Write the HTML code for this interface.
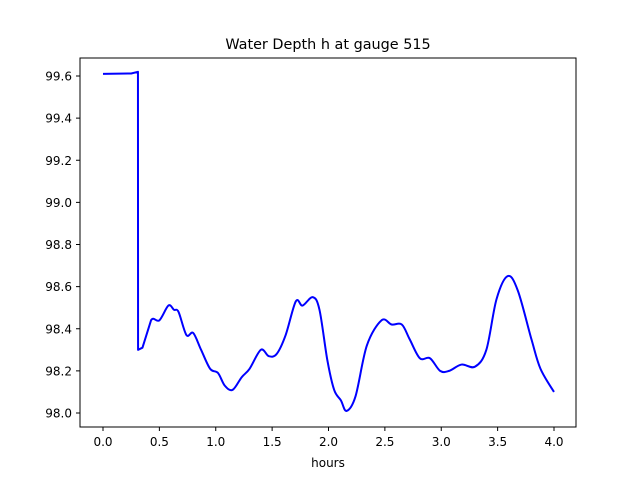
<!DOCTYPE html>
<html><head><meta charset="utf-8"><style>
body{margin:0;background:#fff;}
svg text{font-family:"DejaVu Sans","Liberation Sans",sans-serif;fill:#000;}
</style></head><body>
<svg id="chart" width="640" height="480" viewBox="0 0 640 480">
<rect width="640" height="480" fill="#fff"/>
<text x="328" y="49" font-size="14.4" text-anchor="middle">Water Depth h at gauge 515</text>
<g id="xt"></g>
<g id="yt"></g>
<path id="line" fill="none" stroke="#0000ff" stroke-width="2" stroke-linejoin="round"/>
<rect x="80" y="58" width="496" height="369" fill="none" stroke="#000" stroke-width="1"/>
<text x="328" y="467" font-size="12" text-anchor="middle">hours</text>
</svg>
<script>
const times=[0,0.25,0.31,0.311,0.35,0.426,0.5,0.58,0.63,0.67,0.74,0.8,0.87,0.95,1.02,1.08,1.15,1.23,1.3,1.4,1.47,1.54,1.62,1.71,1.77,1.86,1.92,1.99,2.05,2.11,2.16,2.24,2.34,2.47,2.56,2.65,2.72,2.81,2.9,2.99,3.07,3.18,3.3,3.4,3.49,3.59,3.68,3.8,3.88,4.0];
const depths=[99.61,99.612,99.62,98.30,98.31,98.44,98.44,98.51,98.49,98.48,98.37,98.38,98.30,98.21,98.19,98.13,98.11,98.17,98.21,98.30,98.27,98.28,98.37,98.53,98.51,98.55,98.49,98.25,98.11,98.06,98.01,98.08,98.32,98.44,98.42,98.42,98.35,98.26,98.26,98.20,98.20,98.23,98.22,98.30,98.54,98.65,98.58,98.35,98.21,98.10];
const xTicks=[0,0.5,1,1.5,2,2.5,3,3.5,4];
const xTickLabels=["0.0","0.5","1.0","1.5","2.0","2.5","3.0","3.5","4.0"];
const yTicks=[98.0,98.2,98.4,98.6,98.8,99.0,99.2,99.4,99.6];
const yTickLabels=["98.0","98.2","98.4","98.6","98.8","99.0","99.2","99.4","99.6"];
const sx=t=>103+t*112.75;
const sy=v=>413-(v-98.0)*210.625;
const NS="http://www.w3.org/2000/svg";
const xt=document.getElementById('xt'),yt=document.getElementById('yt');
xTicks.forEach((t,i)=>{
  const l=document.createElementNS(NS,'line');
  l.setAttribute('x1',sx(t));l.setAttribute('x2',sx(t));l.setAttribute('y1',427);l.setAttribute('y2',431);l.setAttribute('stroke','#000');
  
  
  xt.appendChild(l);
  const tx=document.createElementNS(NS,'text');
  tx.setAttribute('x',sx(t));tx.setAttribute('y',446);tx.setAttribute('font-size','12');tx.setAttribute('text-anchor','middle');
  tx.textContent=xTickLabels[i];
  
  
  xt.appendChild(tx);
});
yTicks.forEach((v,i)=>{
  const l=document.createElementNS(NS,'line');
  l.setAttribute('x1',76);l.setAttribute('x2',80);l.setAttribute('y1',sy(v));l.setAttribute('y2',sy(v));l.setAttribute('stroke','#000');
  
  
  yt.appendChild(l);
  const tx=document.createElementNS(NS,'text');
  tx.setAttribute('x',72);tx.setAttribute('y',sy(v)+4.5);tx.setAttribute('font-size','12');tx.setAttribute('text-anchor','end');
  tx.textContent=yTickLabels[i];
  
  
  yt.appendChild(tx);
});
const pts=times.map((t,i)=>[sx(t),sy(depths[i])]);
let d='M'+pts[0][0]+','+pts[0][1];
for(let i=0;i<pts.length-1;i++){
  const p0=pts[Math.max(0,i-1)],p1=pts[i],p2=pts[i+1],p3=pts[Math.min(pts.length-1,i+2)];
  if(Math.abs(p2[0]-p1[0])<1.5||i<=4){d+=' L'+p2[0]+','+p2[1];continue;}
  const c1=[p1[0]+(p2[0]-p0[0])/6,p1[1]+(p2[1]-p0[1])/6];
  const c2=[p2[0]-(p3[0]-p1[0])/6,p2[1]-(p3[1]-p1[1])/6];
  d+=' C'+c1[0]+','+c1[1]+' '+c2[0]+','+c2[1]+' '+p2[0]+','+p2[1];
}
document.getElementById('line').setAttribute('d',d);
</script>
</body></html>
